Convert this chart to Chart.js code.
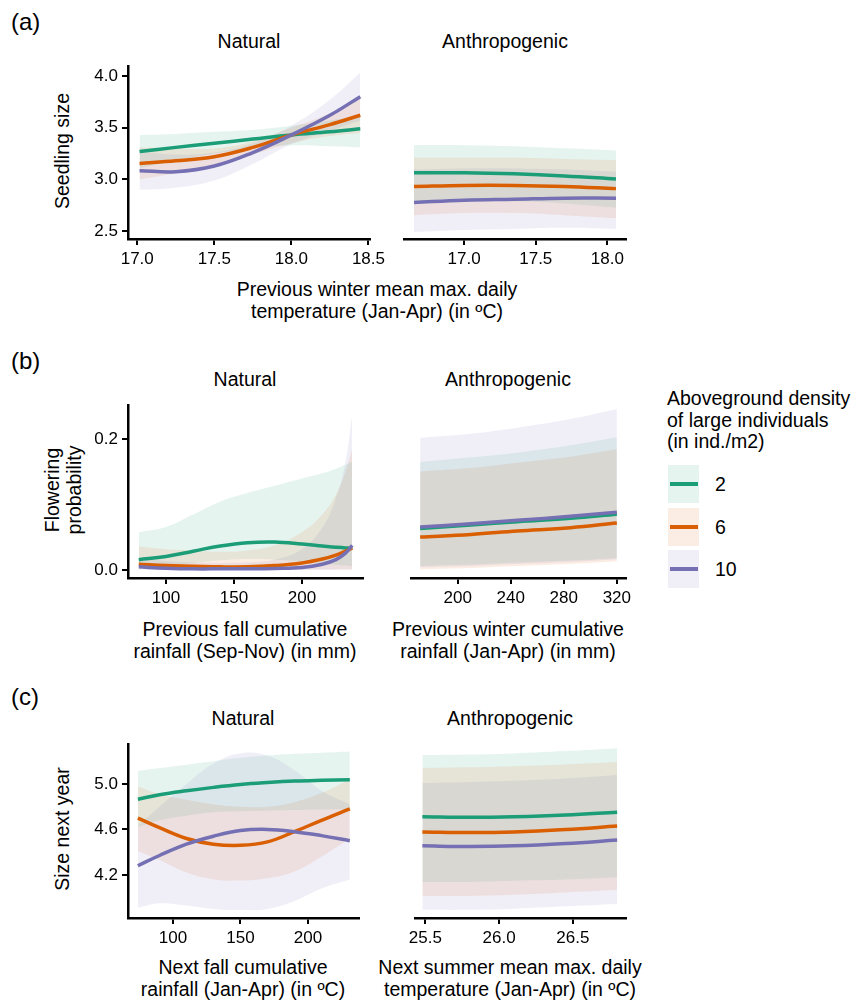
<!DOCTYPE html>
<html>
<head>
<meta charset="utf-8">
<script src="https://cdn.jsdelivr.net/npm/chart.js@4.4.0/dist/chart.umd.min.js"></script>
<style>
  body { margin: 0; background: #fff; }
  #fig { position: relative; width: 852px; height: 1001px; overflow: hidden;
         font-family: "Liberation Sans", Arial, Helvetica, sans-serif; color: #000; }
  canvas { position: absolute; }
  .t { position: absolute; white-space: nowrap; font-size: 19.5px; line-height: 21.5px;
       transform: translate(-50%, -50%); text-align: center; }
  .tag { position: absolute; font-size: 24px; line-height: 28px; transform: translateY(-50%); }
  .yt { position: absolute; white-space: nowrap; font-size: 19.5px; line-height: 22px;
        text-align: center; transform: translate(-50%, -50%) rotate(-90deg); }
  .key { position: absolute; width: 31px; height: 38px; }
  .key div { position: absolute; left: 2px; right: 1px; top: 17px; height: 3.5px; }
  .lab { position: absolute; font-size: 19.5px; transform: translateY(-50%); }
</style>
</head>
<body>
<div id="fig">
  <div class="tag" style="left:11px;top:22px">(a)</div>
  <div class="tag" style="left:11px;top:361px">(b)</div>
  <div class="tag" style="left:11px;top:697px">(c)</div>

  <div class="t" style="left:249px;top:42px">Natural</div>
  <div class="t" style="left:505px;top:42px">Anthropogenic</div>
  <div class="t" style="left:245px;top:380px">Natural</div>
  <div class="t" style="left:508px;top:380px">Anthropogenic</div>
  <div class="t" style="left:243px;top:719px">Natural</div>
  <div class="t" style="left:510px;top:719px">Anthropogenic</div>

  <div class="t" style="left:377px;top:300px">Previous winter mean max. daily<br>temperature (Jan-Apr) (in ºC)</div>
  <div class="t" style="left:245px;top:640px">Previous fall cumulative<br>rainfall (Sep-Nov) (in mm)</div>
  <div class="t" style="left:508px;top:640px">Previous winter cumulative<br>rainfall (Jan-Apr) (in mm)</div>
  <div class="t" style="left:243px;top:978px">Next fall cumulative<br>rainfall (Jan-Apr) (in ºC)</div>
  <div class="t" style="left:510px;top:978px">Next summer mean max. daily<br>temperature (Jan-Apr) (in ºC)</div>

  <div class="yt" style="left:62px;top:151px">Seedling size</div>
  <div class="yt" style="left:63px;top:490px">Flowering<br>probability</div>
  <div class="yt" style="left:62px;top:829px">Size next year</div>

  <div class="t" style="left:667px;top:420px;text-align:left;transform:translateY(-50%)">Aboveground density<br>of large individuals<br>(in ind./m2)</div>
  <div id="legend"></div>

  <canvas id="a-nat"></canvas>
  <canvas id="a-ant"></canvas>
  <canvas id="b-nat"></canvas>
  <canvas id="b-ant"></canvas>
  <canvas id="c-nat"></canvas>
  <canvas id="c-ant"></canvas>
</div>
<script>
const densities = ["2", "6", "10"];
const colors = ["#1B9E77", "#D95F02", "#7570B3"];
const bandColors = ["rgba(27,158,119,0.11)", "rgba(217,95,2,0.11)", "rgba(117,112,179,0.11)"];

// (a) seedling size ~ previous winter temperature
const aNatX = [17.015, 17.25, 17.5, 17.75, 18.0, 18.25, 18.447];
const aNatFit = [
  [3.27, 3.31, 3.35, 3.39, 3.43, 3.46, 3.49],
  [3.155, 3.18, 3.22, 3.31, 3.43, 3.53, 3.62],
  [3.085, 3.075, 3.13, 3.26, 3.43, 3.62, 3.80],
];
const aNatLo = [
  [3.11, 3.18, 3.25, 3.30, 3.33, 3.32, 3.31],
  [3.00, 3.06, 3.14, 3.24, 3.35, 3.42, 3.45],
  [2.90, 2.92, 2.99, 3.15, 3.34, 3.47, 3.57],
];
const aNatHi = [
  [3.43, 3.44, 3.46, 3.48, 3.52, 3.57, 3.62],
  [3.31, 3.30, 3.30, 3.37, 3.50, 3.64, 3.79],
  [3.27, 3.24, 3.26, 3.35, 3.52, 3.77, 4.03],
];
const aAntX = [16.65, 17.0, 17.35, 17.7, 18.06];
const aAntFit = [
  [3.05, 3.05, 3.04, 3.02, 2.99],
  [2.92, 2.93, 2.93, 2.92, 2.90],
  [2.77, 2.79, 2.80, 2.81, 2.81],
];
const aAntLo = [
  [2.78, 2.79, 2.78, 2.76, 2.72],
  [2.65, 2.67, 2.67, 2.65, 2.62],
  [2.49, 2.51, 2.52, 2.53, 2.52],
];
const aAntHi = [
  [3.31, 3.31, 3.30, 3.28, 3.26],
  [3.19, 3.19, 3.19, 3.18, 3.17],
  [3.08, 3.09, 3.09, 3.08, 3.06],
];
const aNatXTicks = [17.0, 17.5, 18.0, 18.5];
const aAntXTicks = [17.0, 17.5, 18.0];
const aYTicks = [2.5, 3.0, 3.5, 4.0];

// (b) flowering probability ~ rainfall
const bNatX = [80, 100, 120, 140, 160, 180, 200, 215, 225, 232, 237];
const bNatFit = [
  [0.016, 0.021, 0.029, 0.037, 0.042, 0.043, 0.040, 0.037, 0.035, 0.034, 0.034],
  [0.009, 0.007, 0.006, 0.005, 0.005, 0.007, 0.011, 0.017, 0.023, 0.029, 0.034],
  [0.005, 0.003, 0.002, 0.002, 0.002, 0.0025, 0.004, 0.009, 0.016, 0.026, 0.038],
];
const bNatLo = [
  [0.004, 0.007, 0.011, 0.015, 0.017, 0.016, 0.013, 0.010, 0.008, 0.007, 0.006],
  [0.002, 0.001, 0.001, 0.001, 0.001, 0.001, 0.001, 0.001, 0.001, 0.001, 0.001],
  [0.001, 0.0005, 0.0003, 0.0003, 0.0003, 0.0003, 0.0004, 0.0005, 0.0007, 0.0009, 0.001],
];
const bNatHi = [
  [0.058, 0.066, 0.085, 0.105, 0.118, 0.129, 0.140, 0.148, 0.155, 0.161, 0.166],
  [0.036, 0.032, 0.030, 0.028, 0.030, 0.038, 0.058, 0.085, 0.115, 0.150, 0.186],
  [0.018, 0.014, 0.012, 0.011, 0.012, 0.016, 0.032, 0.065, 0.110, 0.165, 0.238],
];
const bAntX = [171.7, 210, 245, 285, 320];
const bAntFit = [
  [0.062, 0.067, 0.072, 0.077, 0.083],
  [0.049, 0.053, 0.058, 0.063, 0.070],
  [0.064, 0.069, 0.074, 0.080, 0.086],
];
const bAntLo = [
  [0.006, 0.008, 0.011, 0.014, 0.018],
  [0.001, 0.003, 0.006, 0.009, 0.013],
  [0.004, 0.006, 0.009, 0.012, 0.016],
];
const bAntHi = [
  [0.161, 0.168, 0.175, 0.186, 0.198],
  [0.147, 0.152, 0.160, 0.169, 0.180],
  [0.197, 0.203, 0.212, 0.225, 0.240],
];
const bNatXTicks = [100, 150, 200];
const bAntXTicks = [200, 240, 280, 320];
const bYTicks = [0.0, 0.2];

// (c) size next year
const cNatX = [74, 90, 110, 130, 150, 170, 190, 210, 231];
const cNatFit = [
  [4.866, 4.905, 4.94, 4.97, 4.995, 5.012, 5.025, 5.032, 5.037],
  [4.70, 4.615, 4.52, 4.47, 4.46, 4.49, 4.58, 4.68, 4.78],
  [4.28, 4.37, 4.47, 4.54, 4.59, 4.60, 4.58, 4.545, 4.50],
];
const cNatLo = [
  [4.62, 4.68, 4.72, 4.75, 4.76, 4.765, 4.77, 4.775, 4.78],
  [4.41, 4.33, 4.22, 4.16, 4.15, 4.17, 4.23, 4.36, 4.52],
  [3.91, 3.95, 3.93, 3.90, 3.89, 3.90, 3.97, 4.08, 4.16],
];
const cNatHi = [
  [5.114, 5.14, 5.17, 5.20, 5.23, 5.25, 5.265, 5.275, 5.286],
  [4.98, 4.91, 4.86, 4.82, 4.80, 4.80, 4.84, 4.92, 5.04],
  [4.63, 4.80, 5.00, 5.18, 5.27, 5.25, 5.12, 4.94, 4.82],
];
const cAntX = [25.48, 25.8, 26.1, 26.45, 26.8];
const cAntFit = [
  [4.69, 4.685, 4.69, 4.705, 4.73],
  [4.56, 4.555, 4.56, 4.58, 4.61],
  [4.44, 4.435, 4.44, 4.46, 4.49],
];
const cAntLo = [
  [4.13, 4.13, 4.14, 4.15, 4.17],
  [4.01, 4.01, 4.02, 4.04, 4.06],
  [3.89, 3.89, 3.90, 3.92, 3.94],
];
const cAntHi = [
  [5.22, 5.225, 5.235, 5.255, 5.28],
  [5.11, 5.115, 5.125, 5.14, 5.16],
  [4.98, 4.99, 5.00, 5.02, 5.05],
];
const cNatXTicks = [100, 150, 200];
const cAntXTicks = [25.5, 26.0, 26.5];
const cYTicks = [4.2, 4.6, 5.0];

const FONT = "'Liberation Sans', Arial, Helvetica, sans-serif";

function pts(xs, ys) {
  return xs.map((x, i) => ({ x: x, y: ys[i] }));
}

function createPanel(id, area, xs, fit, lo, hi, xTicks, xRange, xDigits, yTicks, yRange, yDigits, showY) {
  const padL = showY ? 60 : 20;
  const padR = 20, padT = 10, padB = 34;
  const cv = document.getElementById(id);
  cv.width = area.right - area.left + padL + padR;
  cv.height = area.bottom - area.top + padT + padB;
  cv.style.left = (area.left - padL) + "px";
  cv.style.top = (area.top - padT) + "px";

  const datasets = [];
  // bands first (drawn underneath), then lines
  for (let k = 0; k < 3; k++) {
    datasets.push({ data: pts(xs, lo[k]), borderWidth: 0, pointRadius: 0, fill: false, order: 5 - k,
      tension: 0.4 });
    datasets.push({ data: pts(xs, hi[k]), borderWidth: 0, pointRadius: 0, fill: "-1", order: 5 - k,
      backgroundColor: bandColors[k], tension: 0.4 });
  }
  for (let k = 0; k < 3; k++) {
    datasets.push({ label: densities[k], data: pts(xs, fit[k]), borderColor: colors[k], borderWidth: 3.5,
      pointRadius: 0, fill: false, order: 2 - k, tension: 0.4 });
  }

  const tickFont = { family: FONT, size: 17 };
  return new Chart(cv.getContext("2d"), {
    type: "line",
    data: { datasets },
    options: {
      responsive: false,
      animation: false,
      devicePixelRatio: 1,
      layout: { padding: { left: showY ? 0 : 20, right: padR, top: padT, bottom: 0 } },
      plugins: { legend: { display: false }, tooltip: { enabled: false } },
      scales: {
        x: {
          type: "linear",
          min: xRange[0],
          max: xRange[1],
          afterBuildTicks: (s) => { s.ticks = xTicks.map((v) => ({ value: v })); },
          afterFit: (s) => { s.height = padB; },
          ticks: { color: "#000", font: tickFont, padding: 4, maxRotation: 0,
            callback: (v) => Number(v).toFixed(xDigits) },
          grid: { display: true, drawOnChartArea: false, drawTicks: true, tickLength: 6,
            color: "#000", lineWidth: 2 },
          border: { display: true, color: "#000", width: 2.5 },
        },
        y: {
          type: "linear",
          display: showY,
          min: yRange[0],
          max: yRange[1],
          afterBuildTicks: (s) => { s.ticks = yTicks.map((v) => ({ value: v })); },
          afterFit: (s) => { s.width = padL; },
          ticks: { color: "#000", font: tickFont, padding: 4,
            callback: (v) => Number(v).toFixed(yDigits) },
          grid: { display: true, drawOnChartArea: false, drawTicks: true, tickLength: 6,
            color: "#000", lineWidth: 2 },
          border: { display: true, color: "#000", width: 2.5 },
        },
      },
    },
  });
}

const aY = [2.425, 4.094];
const bY = [-0.012, 0.252];
const cY = [3.82, 5.35];

createPanel("a-nat", { left: 128, right: 370, top: 62, bottom: 239 }, aNatX, aNatFit, aNatLo, aNatHi,
  aNatXTicks, [16.94, 18.51], 1, aYTicks, aY, 1, true);
createPanel("a-ant", { left: 384, right: 626, top: 62, bottom: 239 }, aAntX, aAntFit, aAntLo, aAntHi,
  aAntXTicks, [16.58, 18.13], 1, aYTicks, aY, 1, false);
createPanel("b-nat", { left: 128, right: 363, top: 401, bottom: 578 }, bNatX, bNatFit, bNatLo, bNatHi,
  bNatXTicks, [72.1, 244.9], 0, bYTicks, bY, 1, true);
createPanel("b-ant", { left: 391, right: 626, top: 401, bottom: 578 }, bAntX, bAntFit, bAntLo, bAntHi,
  bAntXTicks, [164.8, 326.9], 0, bYTicks, bY, 1, false);
createPanel("c-nat", { left: 128, right: 359, top: 740, bottom: 918 }, cNatX, cNatFit, cNatLo, cNatHi,
  cNatXTicks, [66.7, 237.8], 0, cYTicks, cY, 1, true);
createPanel("c-ant", { left: 395, right: 626, top: 740, bottom: 918 }, cAntX, cAntFit, cAntLo, cAntHi,
  cAntXTicks, [25.43, 26.86], 1, cYTicks, cY, 1, false);

// legend for the density groups
const legend = document.getElementById("legend");
const keyTops = [465, 508, 550];
densities.forEach((d, k) => {
  legend.innerHTML += `
    <div class="key" style="left:668px;top:${keyTops[k]}px;background:${bandColors[k]}">
      <div style="background:${colors[k]}"></div>
    </div>
    <div class="lab" style="left:715px;top:${keyTops[k] + 19}px">${d}</div>`;
});
</script>
</body>
</html>
